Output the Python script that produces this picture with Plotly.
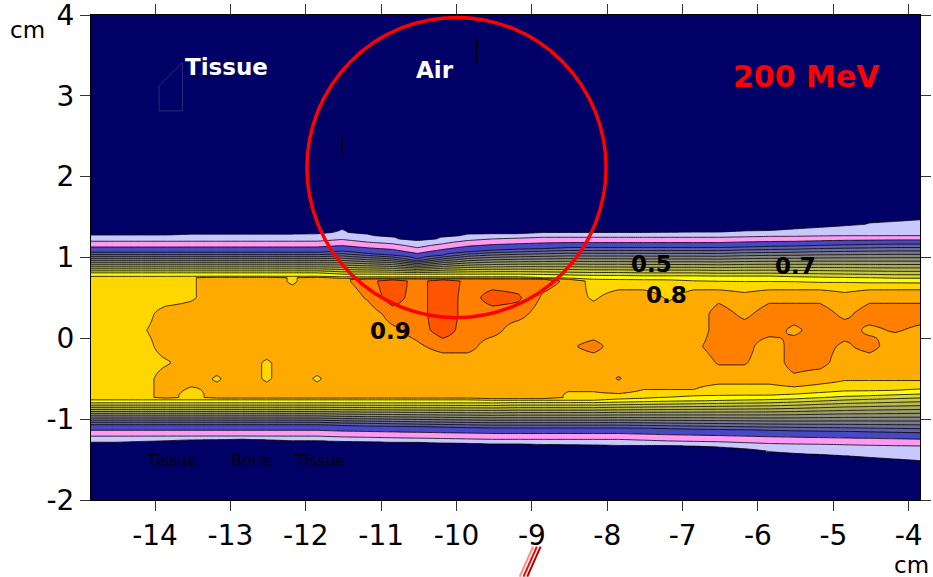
import numpy as np
import plotly.graph_objects as go

# ---------------- data ----------------
# grid columns (cm, depth)
x_cols = [-14.85, -14.52, -14.18, -13.85, -13.52, -13.18, -12.85, -12.52, -12.18, -11.85,
          -11.52, -11.18, -10.85, -10.52, -10.18, -9.85, -9.52, -9.18, -8.85, -8.52,
          -8.18, -7.85, -7.52, -7.18, -6.85, -6.52, -6.18, -5.85, -5.52, -5.18,
          -4.85, -4.52, -4.18, -3.85]

# top side: y (cm) where the dose crosses 0.05 / 0.10 / 0.20 / 0.70 / 0.75
top_05 = [1.285, 1.285, 1.285, 1.285, 1.29, 1.29, 1.29, 1.29, 1.29, 1.30,
          1.35, 1.29, 1.26, 1.21, 1.26, 1.29, 1.30, 1.30, 1.31, 1.31,
          1.31, 1.31, 1.31, 1.315, 1.32, 1.32, 1.33, 1.34, 1.36, 1.38,
          1.40, 1.43, 1.45, 1.47]
top_10 = [1.20, 1.20, 1.20, 1.20, 1.20, 1.20, 1.20, 1.20, 1.20, 1.20,
          1.22, 1.19, 1.17, 1.12, 1.17, 1.21, 1.23, 1.24, 1.25, 1.25,
          1.25, 1.25, 1.25, 1.25, 1.25, 1.25, 1.255, 1.26, 1.26, 1.265,
          1.27, 1.27, 1.27, 1.27]
top_20 = [1.06, 1.06, 1.06, 1.06, 1.06, 1.06, 1.06, 1.06, 1.06, 1.06,
          1.075, 1.05, 1.03, 0.98, 1.03, 1.07, 1.09, 1.10, 1.11, 1.12,
          1.12, 1.12, 1.12, 1.12, 1.12, 1.12, 1.13, 1.135, 1.14, 1.15,
          1.155, 1.16, 1.165, 1.165]
top_70 = [0.81, 0.81, 0.81, 0.81, 0.81, 0.81, 0.81, 0.81, 0.81, 0.81,
          0.795, 0.795, 0.795, 0.795, 0.795, 0.795, 0.795, 0.795, 0.79, 0.785,
          0.78, 0.78, 0.775, 0.775, 0.775, 0.77, 0.77, 0.77, 0.765, 0.76,
          0.755, 0.75, 0.745, 0.745]
top_75 = [0.765, 0.765, 0.765, 0.765, 0.765, 0.765, 0.765, 0.765, 0.765, 0.765,
          0.755, 0.755, 0.755, 0.755, 0.755, 0.755, 0.755, 0.755, 0.75, 0.74,
          0.73, 0.725, 0.72, 0.715, 0.71, 0.705, 0.70, 0.70, 0.695, 0.69,
          0.69, 0.685, 0.685, 0.68]

# bottom side
bot_05 = [-1.29, -1.29, -1.28, -1.27, -1.26, -1.255, -1.25, -1.26, -1.27, -1.27,
          -1.28, -1.285, -1.29, -1.29, -1.30, -1.305, -1.31, -1.31, -1.315, -1.32,
          -1.325, -1.33, -1.33, -1.33, -1.335, -1.35, -1.37, -1.41, -1.43, -1.445,
          -1.455, -1.475, -1.495, -1.52]
bot_10 = [-1.21, -1.21, -1.21, -1.21, -1.21, -1.21, -1.21, -1.21, -1.21, -1.21,
          -1.22, -1.225, -1.23, -1.235, -1.24, -1.245, -1.25, -1.25, -1.25, -1.25,
          -1.25, -1.25, -1.26, -1.27, -1.275, -1.28, -1.29, -1.30, -1.305, -1.31,
          -1.315, -1.32, -1.325, -1.33]
bot_20 = [-1.065, -1.065, -1.065, -1.065, -1.065, -1.065, -1.065, -1.065, -1.065, -1.065,
          -1.075, -1.08, -1.085, -1.09, -1.095, -1.10, -1.105, -1.105, -1.105, -1.105,
          -1.105, -1.105, -1.11, -1.115, -1.12, -1.125, -1.13, -1.135, -1.14, -1.145,
          -1.15, -1.155, -1.16, -1.165]
bot_70 = [-0.80, -0.80, -0.80, -0.80, -0.80, -0.80, -0.80, -0.80, -0.80, -0.80,
          -0.80, -0.80, -0.80, -0.80, -0.80, -0.80, -0.80, -0.795, -0.795, -0.795,
          -0.795, -0.79, -0.785, -0.78, -0.775, -0.77, -0.765, -0.76, -0.75, -0.735,
          -0.72, -0.71, -0.70, -0.69]
bot_75 = [-0.755, -0.755, -0.755, -0.755, -0.755, -0.755, -0.755, -0.755, -0.755, -0.755,
          -0.755, -0.755, -0.755, -0.755, -0.755, -0.755, -0.76, -0.76, -0.76, -0.76,
          -0.76, -0.75, -0.735, -0.72, -0.71, -0.705, -0.70, -0.70, -0.69, -0.67,
          -0.65, -0.645, -0.635, -0.62]

# core of the field: one character per column, rows at these depths (cm)
core_y = [0.7, 0.5, 0.3, 0.1, -0.1, -0.3, -0.5, -0.7]
core_map = [
    "gggghooohoO" "dRdRuddd" "O" "ggggg" "GGGGGGGGG",
    "gggghoooooo" "erdRdrq" "OohoohoOoOOOoOOO",
    "ggg" "ooooooooo" "ddRddd" "ooooooo" "dOdddOddd",
    "ggh" "ooooooooo" "Odrdd" "oooooooo" "dddOddOeO",
    "ggg" "oooooooooo" "Odd" "ooo" "Od" "ooo" "O" "dd" "o" "dd" "O" "d" "oo",
    "ggghoooh" "ooooooooooooooooo" "eeoddoooo",
    "ggg" "oo" "h" "o" "h" "o" "h" "ooooooooooo" "e" "oooooo" "O" "o" "iiii",
    "ggg" "o" "g" "oooooooooooooo" "hhh" "jjj" "GGGGGGGGG",
]
core_dose = {"G": 0.76, "g": 0.78, "j": 0.79, "h": 0.795, "i": 0.805,
             "o": 0.82, "O": 0.84, "e": 0.855, "d": 0.87, "u": 0.88,
             "q": 0.91, "r": 0.93, "R": 0.945}

# contour levels (fraction of dose) and band colours
level_start, level_end, level_step = 0.05, 1.00, 0.05
band_colors = ["#000066", "#c8c8ff", "#ff99f2", "#4848c4",
               "#5e5eac", "#6c6c9c", "#7a7a8e", "#868682", "#929276",
               "#9e9e6a", "#acac5c", "#baba4e", "#c8c842", "#d8d836",
               "#ffff00", "#ffd700", "#ffaa00", "#ff8000", "#ff5500", "#ff5500"]

x_tick_vals = [-14, -13, -12, -11, -10, -9, -8, -7, -6, -5, -4]
x_tick_text = ["-14", "-13", "-12", "-11", "-10", "-9", "-8", "-7", "-6", "-5", "-4"]
y_tick_vals = [-2, -1, 0, 1, 2, 3, 4]
y_tick_text = ["-2", "-1", "0", "1", "2", "3", "4"]

# air cavity (red circle)
air_cx, air_cy, air_rx, air_ry = -10.0, 2.113, 1.985, 1.857
# geometry outline near "Tissue" label and small marks
tissue_poly_x = [-13.637, -13.947, -13.947, -13.637, -13.637]
tissue_poly_y = [3.412, 3.124, 2.814, 2.814, 3.412]
mark1_x, mark1_y = [-9.733, -9.733], [3.70, 3.41]
mark2_x, mark2_y = [-11.52, -11.52], [2.52, 2.24]

# labels
contour_labels = [("0.5", -7.41, 0.925), ("0.7", -5.50, 0.90),
                  ("0.8", -7.21, 0.53), ("0.9", -10.88, 0.095)]
material_labels = [("Tissue", -13.78, -1.514), ("Bone", -12.72, -1.514),
                   ("Tissue", -11.82, -1.514)]

# ---------------- build the dose grid ----------------
yg = np.linspace(-2.013, 4.013, 302)
Z = np.zeros((len(yg), len(x_cols)))
rows_asc = core_y[::-1]
for k in range(len(x_cols)):
    top = np.interp(yg,
                    [top_75[k] - 0.05, top_75[k], top_70[k], top_20[k], top_10[k], top_05[k], top_05[k] + 0.02],
                    [1.0, 0.75, 0.70, 0.20, 0.10, 0.05, 0.0])
    bot = np.interp(yg,
                    [bot_05[k] - 0.02, bot_05[k], bot_10[k], bot_20[k], bot_70[k], bot_75[k], bot_75[k] + 0.05],
                    [0.0, 0.05, 0.10, 0.20, 0.70, 0.75, 1.0])
    col = [core_dose[row[k]] for row in core_map][::-1]
    core = np.interp(yg, rows_asc, col)
    Z[:, k] = np.minimum(np.minimum(top, bot), core) * 100.0

n_bands = len(band_colors)
colorscale = []
for j, c in enumerate(band_colors):
    colorscale.append([j / n_bands, c])
    colorscale.append([(j + 1) / n_bands, c])

fig = go.Figure()
fig.add_trace(go.Contour(
    x=x_cols, y=yg, z=Z,
    autocontour=False,
    contours=dict(start=level_start * 100, end=level_end * 100, size=level_step * 100,
                  coloring="fill", showlines=True),
    line=dict(color="black", width=0.8, smoothing=0),
    colorscale=colorscale, showscale=False, hoverinfo="skip",
))
fig.add_trace(go.Scatter(x=tissue_poly_x, y=tissue_poly_y, mode="lines",
                         line=dict(color="#2a2a7a", width=1), hoverinfo="skip"))
for mx, my in [(mark1_x, mark1_y), (mark2_x, mark2_y)]:
    fig.add_trace(go.Scatter(x=mx, y=my, mode="lines",
                             line=dict(color="black", width=1.5), hoverinfo="skip"))

shapes = [dict(type="circle", xref="x", yref="y",
               x0=air_cx - air_rx, x1=air_cx + air_rx,
               y0=air_cy - air_ry, y1=air_cy + air_ry,
               line=dict(color="#ff0000", width=3.5))]
for dx, col in [(-0.05, "#ff8a8a"), (0.0, "#ff0000"), (0.05, "#b00000")]:
    shapes.append(dict(type="line", xref="x", yref="paper",
                       x0=-9.111 + dx, y0=-0.158, x1=-8.934 + dx, y1=-0.096,
                       line=dict(color=col, width=2)))

ann = []
ann.append(dict(text="<b>Tissue</b>", x=-13.056, y=3.36, xref="x", yref="y", showarrow=False,
                font=dict(family="DejaVu Sans", size=23, color="white")))
ann.append(dict(text="<b>Air</b>", x=-10.29, y=3.325, xref="x", yref="y", showarrow=False,
                font=dict(family="DejaVu Sans", size=23, color="white")))
ann.append(dict(text="<b>200 MeV</b>", x=-5.36, y=3.24, xref="x", yref="y", showarrow=False,
                font=dict(family="DejaVu Sans", size=30, color="#ff0000")))
for t, lx, ly in contour_labels:
    ann.append(dict(text="<b>%s</b>" % t, x=lx, y=ly, xref="x", yref="y", showarrow=False,
                    font=dict(family="DejaVu Sans", size=23, color="black")))
for t, lx, ly in material_labels:
    ann.append(dict(text=t, x=lx, y=ly, xref="x", yref="y", showarrow=False,
                    font=dict(family="DejaVu Sans", size=16, color="black")))
ann.append(dict(text="cm", x=-0.076, y=0.969, xref="paper", yref="paper", showarrow=False,
                xanchor="center", yanchor="middle",
                font=dict(family="DejaVu Sans", size=23, color="black")))
ann.append(dict(text="cm", x=0.990, y=-0.134, xref="paper", yref="paper", showarrow=False,
                xanchor="center", yanchor="middle",
                font=dict(family="DejaVu Sans", size=23, color="black")))

axis_common = dict(ticks="outside", ticklen=10, tickwidth=1, tickcolor="#333333",
                   showline=True, linecolor="black", linewidth=1, mirror="allticks",
                   showgrid=False, zeroline=False, automargin=False,
                   ticklabeloverflow="allow",
                   tickfont=dict(family="DejaVu Sans", size=28, color="black"))

fig.update_layout(
    width=933, height=577,
    margin=dict(l=91, r=13, t=15, b=77, autoexpand=False),
    paper_bgcolor="white", plot_bgcolor="#000066",
    showlegend=False,
    shapes=shapes, annotations=ann,
    xaxis=dict(range=[-14.85, -3.85], tickvals=x_tick_vals, ticktext=x_tick_text, **axis_common),
    yaxis=dict(range=[-2, 4], tickvals=y_tick_vals, ticktext=y_tick_text, **axis_common),
)

fig.write_html("out.html", config={"displayModeBar": False},
               post_script="document.body.style.margin='0px';")
